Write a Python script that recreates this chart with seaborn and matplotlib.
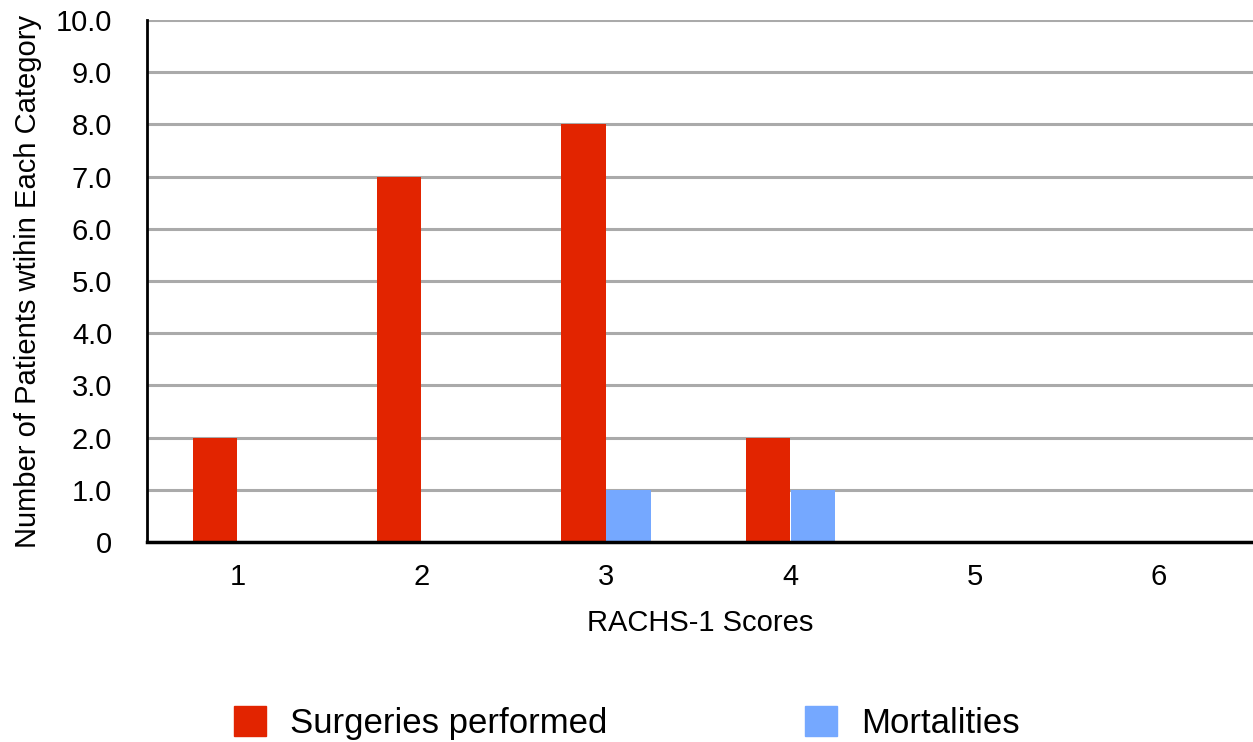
import pandas as pd
import seaborn as sns
import matplotlib.pyplot as plt

scores = ["1", "2", "3", "4", "5", "6"]
surgeries = [2, 7, 8, 2, 0, 0]
mortalities = [0, 0, 1, 1, 0, 0]
series_names = ["Surgeries performed", "Mortalities"]
colors = ["#E22400", "#75A8FF"]

df = pd.DataFrame({
    "score": scores * 2,
    "count": surgeries + mortalities,
    "series": [series_names[0]] * len(scores) + [series_names[1]] * len(scores),
})

sns.set_style("white")
plt.rcParams["font.family"] = ["Liberation Sans", "DejaVu Sans"]

fig = plt.figure(figsize=(12.53, 7.42), dpi=100)
ax = fig.add_axes([147 / 1253, 1 - 542 / 742, 1106 / 1253, 522 / 742])

sns.barplot(data=df, x="score", y="count", hue="series", order=scores,
            hue_order=series_names, palette=colors, width=0.49, gap=0.02,
            saturation=1, edgecolor="none", ax=ax, legend=False, zorder=3)

ax.set_ylim(0, 10)
ax.set_xlim(-0.49, 5.51)
ax.set_yticks(range(0, 11))
ax.set_yticklabels(["0"] + [f"{v:.1f}" for v in range(1, 11)])
ax.yaxis.grid(True, color="#AAAAAA", linewidth=2.2, zorder=0)
ax.set_axisbelow(True)
for s in ["top", "right"]:
    ax.spines[s].set_visible(False)
ax.spines["left"].set_color("black")
ax.spines["left"].set_linewidth(2)
ax.spines["bottom"].set_color("black")
ax.spines["bottom"].set_linewidth(2.5)
ax.spines["bottom"].set_zorder(5)
ax.tick_params(axis="both", length=0, labelsize=21, colors="black")
ax.tick_params(axis="x", pad=15)
ax.tick_params(axis="y", pad=25)

ax.set_xlabel("RACHS-1 Scores", fontsize=21, labelpad=13, color="black")
ax.set_ylabel("Number of Patients wtihin Each Category", fontsize=21,
              labelpad=10, color="black")

handles = [plt.Rectangle((0, 0), 1, 1, color=c) for c in colors]
fig.legend(handles, series_names, loc="center", ncol=2, frameon=False,
           fontsize=25, labelcolor="black", bbox_to_anchor=(0.5, 1 - 723 / 742),
           handlelength=0.92, handleheight=0.95, handletextpad=0.69,
           columnspacing=5.7, borderpad=0)

fig.savefig("out.png", dpi=100)
